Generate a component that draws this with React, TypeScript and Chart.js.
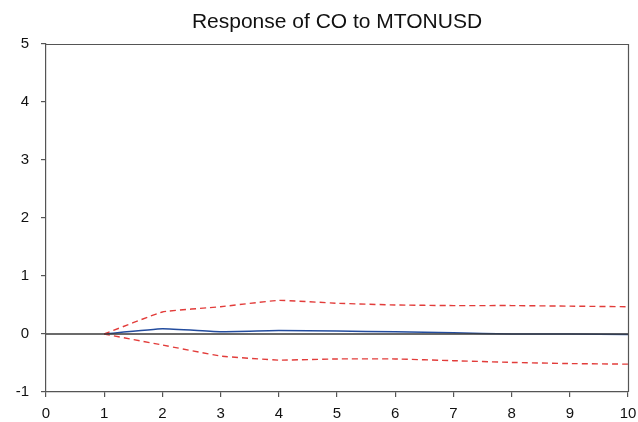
import React, { useEffect, useRef } from "react";
import { Chart, registerables } from "chart.js";

Chart.register(...registerables);

const periods = [1, 2, 3, 4, 5, 6, 7, 8, 9, 10];
const response = [0, 0.09, 0.04, 0.06, 0.05, 0.04, 0.02, 0.0, 0.0, -0.01];
const upperBand = [0, 0.38, 0.47, 0.58, 0.53, 0.5, 0.49, 0.49, 0.48, 0.47];
const lowerBand = [0, -0.19, -0.38, -0.45, -0.43, -0.43, -0.46, -0.49, -0.51, -0.52];
const zeroLineX = [0, 10];
const titleText = "Response of CO to MTONUSD";

const axisColor = "#555555";
const fontFamily = "Liberation Sans, Arial, sans-serif";

const frame = {
  id: "frame",
  afterDraw(chart: any) {
    const { ctx, chartArea } = chart;
    ctx.save();
    ctx.strokeStyle = axisColor;
    ctx.lineWidth = 1.2;
    ctx.beginPath();
    ctx.moveTo(chartArea.left, chartArea.top + 0.5);
    ctx.lineTo(chartArea.right, chartArea.top + 0.5);
    ctx.moveTo(chartArea.right + 0.5, chartArea.top);
    ctx.lineTo(chartArea.right + 0.5, chartArea.bottom);
    ctx.stroke();
    ctx.restore();
  },
};

export default function App() {
  const ref = useRef<HTMLCanvasElement>(null);
  useEffect(() => {
    document.body.style.margin = "0";
    const pts = (arr: number[]) => periods.map((p, i) => ({ x: p, y: arr[i] }));
    const chart = new Chart(ref.current!, {
      type: "line",
      data: {
        datasets: [
          {
            data: zeroLineX.map((x) => ({ x, y: 0 })),
            borderColor: "#3a3a3a",
            borderWidth: 1.5,
            pointRadius: 0,
          },
          {
            data: pts(upperBand),
            borderColor: "#e23c3a",
            borderWidth: 1.4,
            borderDash: [6, 4],
            pointRadius: 0,
            tension: 0.1,
          },
          {
            data: pts(lowerBand),
            borderColor: "#e23c3a",
            borderWidth: 1.4,
            borderDash: [6, 4],
            pointRadius: 0,
            tension: 0.1,
          },
          {
            data: pts(response),
            borderColor: "#234c9e",
            borderWidth: 1.5,
            pointRadius: 0,
            tension: 0.1,
          },
        ],
      },
      options: {
        animation: false,
        responsive: false,
        layout: { padding: { left: 0, right: 10, top: 0, bottom: 0 } },
        plugins: {
          legend: { display: false },
          tooltip: { enabled: false },
          title: {
            display: true,
            fullSize: false,
            text: titleText,
            color: "#111",
            font: { family: fontFamily, size: 21, weight: "normal" },
            padding: { top: 10, bottom: 8.8 },
          },
        },
        scales: {
          x: {
            type: "linear",
            min: 0,
            max: 10,
            afterFit: (s: any) => {
              s.height = 30;
              s.paddingLeft = 0;
              s.paddingRight = 0;
            },
            ticks: {
              stepSize: 1,
              color: "#111",
              padding: 8,
              maxRotation: 0,
              font: { family: fontFamily, size: 15 },
            },
            grid: { drawOnChartArea: false, drawTicks: true, tickLength: 5, color: axisColor, lineWidth: 1.2 },
            border: { display: true, color: axisColor, width: 1.2 },
          },
          y: {
            type: "linear",
            min: -1,
            max: 5,
            afterFit: (s: any) => {
              s.width = 46;
              s.paddingTop = 0;
              s.paddingBottom = 0;
            },
            ticks: {
              stepSize: 1,
              color: "#111",
              padding: 12,
              font: { family: fontFamily, size: 15 },
            },
            grid: { drawOnChartArea: false, drawTicks: true, tickLength: 5, color: axisColor, lineWidth: 1.2 },
            border: { display: true, color: axisColor, width: 1.2 },
          },
        },
      },
      plugins: [frame],
    });
    return () => chart.destroy();
  }, []);
  return (
    <div style={{ width: 638, height: 422 }}>
      <canvas ref={ref} width={638} height={422} style={{ display: "block" }} />
    </div>
  );
}
